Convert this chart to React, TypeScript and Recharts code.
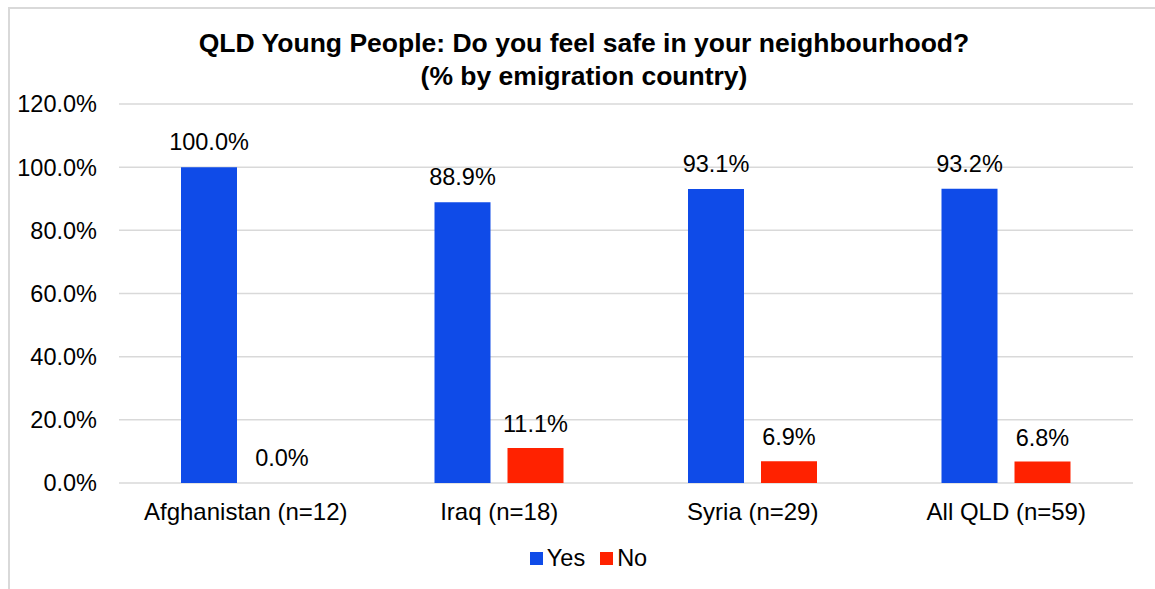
import React from 'react';
import { BarChart, Bar, XAxis, YAxis, CartesianGrid, Legend, LabelList, Cell } from 'recharts';

const categories = ['Afghanistan (n=12)', 'Iraq (n=18)', 'Syria (n=29)', 'All QLD (n=59)'];
const yesValues = [1.0, 0.889, 0.931, 0.932];
const noValues = [0.0, 0.111, 0.069, 0.068];
const yTicks = [0, 0.2, 0.4, 0.6, 0.8, 1.0, 1.2];
const titleLines = ['QLD Young People: Do you feel safe in your neighbourhood?', '(% by emigration country)'];
const seriesNames = ['Yes', 'No'];
const seriesColors = ['#0F4BE8', '#FF2200'];

const data = categories.map((c, i) => ({ name: c, Yes: yesValues[i], No: noValues[i] }));

const FONT = '"Liberation Sans", Arial, sans-serif';
const pct = (v: number) => (v * 100).toFixed(1) + '%';

const LegendContent = () => (
  <div
    style={{
      height: 30,
      display: 'flex',
      justifyContent: 'center',
      alignItems: 'center',
      paddingLeft: 9,
      fontFamily: FONT,
      fontSize: 23.5,
      color: '#000',
    }}
  >
    {seriesNames.map((n, i) => (
      <div key={n} style={{ display: 'flex', alignItems: 'center', marginLeft: i === 0 ? 0 : 15 }}>
        <div style={{ width: 13, height: 13, background: seriesColors[i], marginRight: 4 }} />
        <span>{n}</span>
      </div>
    ))}
  </div>
);

const labelStyle = { fontSize: 23.5, fontFamily: FONT, fill: '#000' };

export default function App() {
  return (
    <div
      style={{
        position: 'fixed',
        left: 8,
        top: 7,
        width: 1152,
        height: 600,
        border: '2px solid #d9d9d9',
        boxSizing: 'border-box',
        background: '#fff',
      }}
    >
      <div
        style={{
          position: 'absolute',
          left: 0,
          top: 17.6,
          width: 1148,
          textAlign: 'center',
          fontFamily: FONT,
          fontWeight: 'bold',
          fontSize: 26.5,
          lineHeight: '33px',
          color: '#000',
          zIndex: 2,
        }}
      >
        {titleLines.map((t) => (
          <div key={t}>{t}</div>
        ))}
      </div>
      <BarChart
        width={1148}
        height={589}
        data={data}
        margin={{ top: 95, right: 25, left: 0, bottom: 25 }}
        barSize={56}
        barGap={17}
      >
        <CartesianGrid vertical={false} stroke="#d9d9d9" strokeWidth={1.5} />
        <XAxis
          dataKey="name"
          axisLine={false}
          tickLine={false}
          tickSize={6}
          tickMargin={14}
          height={60}
          tick={{ fontSize: 24, fontFamily: FONT, fill: '#000' }}
        />
        <YAxis
          domain={[0, 1.2]}
          ticks={yTicks}
          tickFormatter={pct}
          axisLine={false}
          tickLine={false}
          tickSize={6}
          tickMargin={16}
          width={109}
          tick={{ fontSize: 23.5, fontFamily: FONT, fill: '#000' }}
        />
        <Legend
          verticalAlign="bottom"
          content={<LegendContent />}
          wrapperStyle={{ top: 534, left: 0, width: 1148, height: 30 }}
        />
        <Bar dataKey="Yes" fill={seriesColors[0]} isAnimationActive={false}>
          <LabelList
            dataKey="Yes"
            position="top"
            offset={17}
            formatter={(v: any) => pct(Number(v))}
            style={labelStyle}
          />
        </Bar>
        <Bar dataKey="No" fill={seriesColors[1]} minPointSize={1} isAnimationActive={false}>
          {noValues.map((v, i) => (
            <Cell key={i} fill={v === 0 ? 'transparent' : seriesColors[1]} />
          ))}
          <LabelList
            dataKey="No"
            position="top"
            offset={16}
            formatter={(v: any) => pct(Number(v))}
            style={labelStyle}
          />
        </Bar>
      </BarChart>
    </div>
  );
}
